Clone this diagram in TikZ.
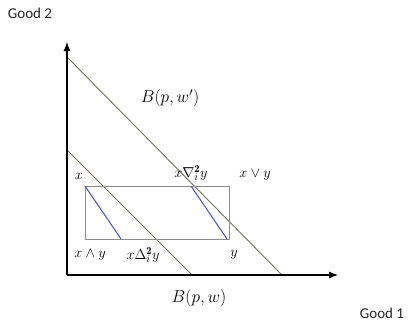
\documentclass[tikz,border=0pt]{standalone}
\usepackage{fontspec}
\newfontfamily\labelfont{Carlito}
\usetikzlibrary{arrows.meta}
\definecolor{budget}{HTML}{737258}
\definecolor{boxgray}{HTML}{8C8C8C}
\definecolor{blueln}{HTML}{4A5CD8}
\tikzset{
  axis/.style={line width=1.1pt,-{Latex[length=9pt,width=7pt]}},
  budgetln/.style={draw=budget,line width=0.9pt},
  boxln/.style={draw=boxgray,line width=0.9pt},
  blueseg/.style={draw=blueln,line width=1.1pt},
  axlabel/.style={font=\labelfont\fontsize{15}{17}\selectfont,text=black!85,inner sep=0pt},
  mlabel/.style={font=\fontsize{18}{20}\selectfont,inner sep=0pt},
  slabel/.style={font=\fontsize{15}{17}\selectfont,inner sep=0pt}
}
\begin{document}
\begin{tikzpicture}[x=1pt,y=-1pt]
\useasboundingbox (0,0) rectangle (413,332);
\coordinate (O) at (67,275);
\coordinate (Ytip) at (67,42);
\coordinate (Xtip) at (338,275);
\coordinate (Oa) at (67,57);
\coordinate (Ob) at (282,275);
\coordinate (Ia) at (67,150);
\coordinate (Ib) at (192,275);
\coordinate (R1) at (85,186);
\coordinate (R2) at (229,239);
\coordinate (B1a) at (85,186);
\coordinate (B1b) at (121,239);
\coordinate (B2a) at (191,186);
\coordinate (B2b) at (227,239);
\draw[budgetln] (Oa) -- (Ob);
\draw[budgetln] (Ia) -- (Ib);
\draw[boxln] (R1) rectangle (R2);
\draw[blueseg] (B1a) -- (B1b);
\draw[blueseg] (B2a) -- (B2b);
\draw[axis] (O) -- (Ytip);
\draw[axis] (O) -- (Xtip);
\node[axlabel] (g2) at (30,13) {Good 2};
\node[axlabel] (g1) at (382,313) {Good 1};
\node[mlabel] (bw1) at (170,98) {$B\bigl(p,w'\bigr)$};
\node[mlabel] (bw) at (199,298) {$B\bigl(p,w\bigr)$};
\node[slabel] (lx) at (79,176) {$x$};
\node[slabel] (lnab) at (191,173) {$x\nabla^{\mathbf{2}}_{i}y$};
\node[slabel] (ljoin) at (255,175) {$x\vee y$};
\node[slabel] (lmeet) at (90,255) {$x\wedge y$};
\node[slabel] (ldel) at (143,255) {$x\Delta^{\mathbf{2}}_{i}y$};
\node[slabel] (ly) at (234,255) {$y$};
\end{tikzpicture}
\end{document}
